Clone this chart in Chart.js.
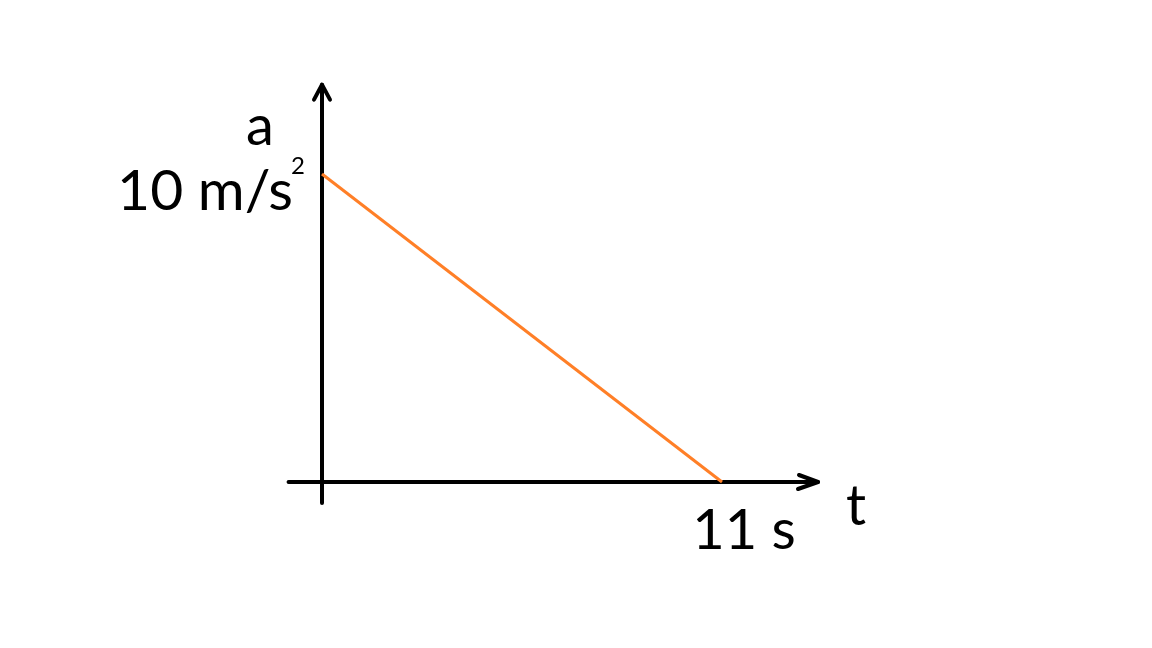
<!DOCTYPE html>
<html>
<head>
<meta charset="utf-8">
<title>a - t</title>
<script src="https://cdn.jsdelivr.net/npm/chart.js@4/dist/chart.umd.min.js"></script>
<style>
    html, body { margin: 0; padding: 0; background: #fff; }
    #wrap { width: 1152px; height: 648px; position: relative; }
</style>
</head>
<body>
<div id="wrap"><canvas id="c"></canvas></div>
<script>
// data
var timeVals = [0, 11];          // t, s
var accelVals = [10, 0];         // a, m/s^2
var xTickLabel = '11 s';
var yTickLabel = '10 m/s';
var yTickSup = '2';
var xAxisName = 't';
var yAxisName = 'a';

var FONT = 'Lato, "Open Sans", sans-serif';

/*
* axes with arrows + labels, drawn from the scales
*/
var axesPlugin = {
    id: 'axesArrows',
    beforeDatasetsDraw: function(chart) {
        var ctx = chart.ctx;
        var xs = chart.scales.x, ys = chart.scales.y;
        var x0 = xs.getPixelForValue(0), y0 = ys.getPixelForValue(0);
        var sx = xs.getPixelForValue(1) - x0;   // px per unit
        var sy = y0 - ys.getPixelForValue(1);
        ctx.save();
        ctx.strokeStyle = '#000';
        ctx.lineWidth = 4;
        ctx.lineCap = 'round';
        ctx.lineJoin = 'round';
        // y axis
        var yTop = y0 - 12.9 * sy;
        ctx.beginPath();
        ctx.moveTo(x0, y0 + 0.68 * sy);
        ctx.lineTo(x0, yTop);
        ctx.stroke();
        ctx.beginPath();
        ctx.moveTo(x0 - 8, yTop + 15);
        ctx.lineTo(x0, yTop);
        ctx.lineTo(x0 + 8, yTop + 15);
        ctx.stroke();
        // x axis
        var xEnd = x0 + 13.64 * sx;
        ctx.beginPath();
        ctx.moveTo(x0 - 0.92 * sx, y0);
        ctx.lineTo(xEnd, y0);
        ctx.stroke();
        ctx.beginPath();
        ctx.moveTo(xEnd - 19, y0 - 7);
        ctx.lineTo(xEnd, y0);
        ctx.lineTo(xEnd - 20, y0 + 7);
        ctx.stroke();
        ctx.restore();
    },
    afterDraw: function(chart) {
        var ctx = chart.ctx;
        var xs = chart.scales.x, ys = chart.scales.y;
        var x0 = xs.getPixelForValue(0), y0 = ys.getPixelForValue(0);
        var xt = xs.getPixelForValue(timeVals[1]);
        var yt = ys.getPixelForValue(accelVals[0]);
        ctx.save();
        ctx.fillStyle = '#000';
        ctx.textBaseline = 'alphabetic';
        ctx.font = '57px ' + FONT;
        // y tick label
        ctx.textAlign = 'right';
        ctx.fillText(yTickLabel, x0 - 29, yt + 36);
        ctx.font = '24px ' + FONT;
        ctx.textAlign = 'left';
        ctx.fillText(yTickSup, x0 - 31, yt);
        // x tick label
        ctx.font = '56px ' + FONT;
        ctx.textAlign = 'center';
        ctx.fillText(xTickLabel, xt + 22, y0 + 67);
        // axis names
        ctx.fillText(yAxisName, x0 - 62, y0 - 337);
        ctx.fillText(xAxisName, xt + 134, y0 + 43);
        ctx.restore();
    }
};

var chart = new Chart(document.getElementById('c'), {
    type: 'line',
    data: {
        labels: timeVals,
        datasets: [{
            data: timeVals.map(function(t, i) { return {x: t, y: accelVals[i]}; }),
            borderColor: '#ff7f27',
            borderWidth: 3,
            pointRadius: 0,
            fill: false,
            clip: false
        }]
    },
    options: {
        responsive: true,
        maintainAspectRatio: false,
        animation: false,
        events: [],
        layout: { padding: { left: 322, right: 430, top: 174, bottom: 166 } },
        plugins: { legend: { display: false }, tooltip: { enabled: false } },
        scales: {
            x: { type: 'linear', min: 0, max: 11, display: false },
            y: { type: 'linear', min: 0, max: 10, display: false }
        }
    },
    plugins: [axesPlugin]
});
</script>
</body>
</html>
